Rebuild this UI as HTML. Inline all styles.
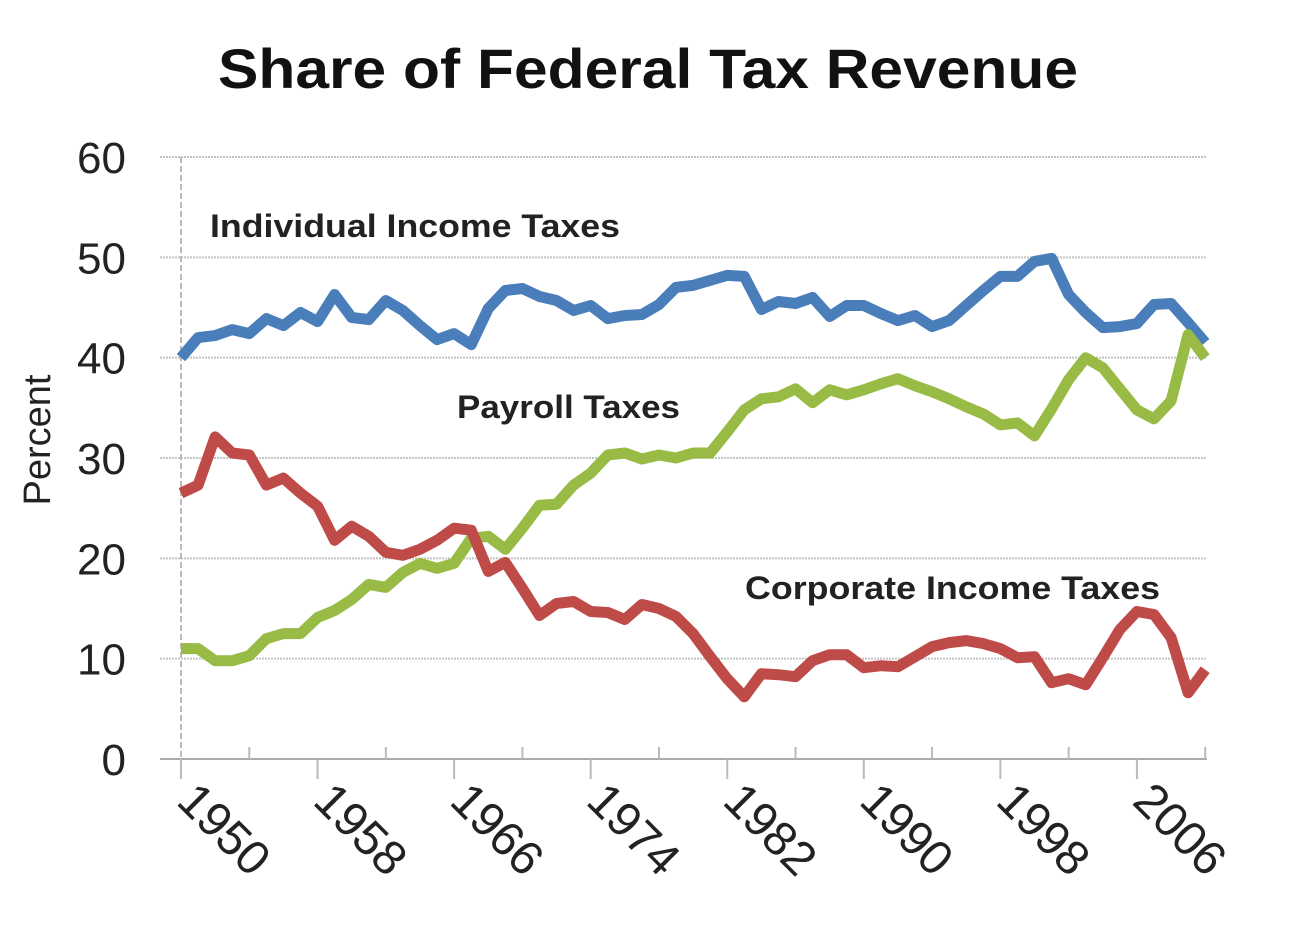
<!DOCTYPE html>
<html><head><meta charset="utf-8"><style>
html,body{margin:0;padding:0;background:#fff;}
svg{display:block;font-family:"Liberation Sans",sans-serif;}
</style></head><body>
<svg id="chart" width="1298" height="946">
<text x="218" y="88" textLength="860" lengthAdjust="spacingAndGlyphs" font-size="56" font-weight="bold" fill="#111">Share of Federal Tax Revenue</text>
<text transform="translate(50,440) rotate(-90)" text-anchor="middle" font-size="38" fill="#222">Percent</text>
<g id="grid"></g><g id="axes"></g><g id="lines"></g>
<text x="210" y="237" textLength="410" lengthAdjust="spacingAndGlyphs" font-size="32" font-weight="bold" fill="#222">Individual Income Taxes</text>
<text x="457" y="418" textLength="223" lengthAdjust="spacingAndGlyphs" font-size="32" font-weight="bold" fill="#222">Payroll Taxes</text>
<text x="745" y="599" textLength="415" lengthAdjust="spacingAndGlyphs" font-size="32" font-weight="bold" fill="#222">Corporate Income Taxes</text>
</svg>
<script>
const years=[];for(let y=1950;y<=2010;y++)years.push(y);
const individual=[40,42,42.2,42.8,42.4,43.9,43.2,44.5,43.6,46.3,44.0,43.8,45.7,44.7,43.2,41.8,42.4,41.3,44.9,46.7,46.9,46.1,45.7,44.7,45.2,43.9,44.2,44.3,45.3,47.0,47.2,47.7,48.2,48.1,44.8,45.6,45.4,46.0,44.1,45.2,45.2,44.4,43.7,44.2,43.1,43.7,45.2,46.7,48.1,48.1,49.6,49.9,46.3,44.5,43.0,43.1,43.4,45.3,45.4,43.5,41.5];
const payroll=[11,11,9.8,9.8,10.3,12,12.5,12.5,14.1,14.8,15.9,17.4,17.1,18.6,19.5,19.0,19.5,22.0,22.2,20.9,23.0,25.3,25.4,27.3,28.5,30.3,30.5,29.9,30.3,30.0,30.5,30.5,32.6,34.8,35.9,36.1,36.9,35.5,36.8,36.3,36.8,37.4,37.9,37.2,36.6,35.9,35.1,34.4,33.3,33.5,32.2,34.9,37.8,40.0,39.0,36.9,34.8,33.9,35.7,42.3,40.0];
const corporate=[26.5,27.3,32.1,30.5,30.3,27.3,28.0,26.5,25.2,21.8,23.2,22.2,20.6,20.3,20.9,21.8,23.0,22.8,18.7,19.6,17.0,14.3,15.5,15.7,14.7,14.6,13.9,15.4,15.0,14.2,12.5,10.2,8.0,6.2,8.5,8.4,8.2,9.8,10.4,10.4,9.1,9.3,9.2,10.2,11.2,11.6,11.8,11.5,11.0,10.1,10.2,7.6,8.0,7.4,10.1,12.9,14.7,14.4,12.1,6.6,8.9];
const yTicks=[0,10,20,30,40,50,60];
const xTickLabels=[1950,1958,1966,1974,1982,1990,1998,2006];
const NS='http://www.w3.org/2000/svg';
const X=y=>181+(y-1950)*17.07;
const Y=v=>759-v*10.033;
function mk(tag,attrs,parent){const e=document.createElementNS(NS,tag);for(const k in attrs)e.setAttribute(k,attrs[k]);document.getElementById(parent).appendChild(e);return e;}
yTicks.forEach(t=>{
 const l=mk('line',{x1:160,x2:1207,y1:Y(t),y2:Y(t),stroke:t===0?'#aaa':'#c4c4c4','stroke-width':2,'stroke-dasharray':t===0?'':'2,1'},'grid');
 
 
 const tx=mk('text',{x:126,y:Y(t)+16,'text-anchor':'end','font-size':44,fill:'#222'},'axes');
 tx.textContent=t;
 
 
});
const ya=mk('line',{x1:181,x2:181,y1:Y(60),y2:Y(0)+20,stroke:'#bbb','stroke-width':2,'stroke-dasharray':'6,3'},'axes');


for(let y=1950;y<=2010;y+=4){
 const major=(y-1950)%8===0;
 const t=mk('line',{x1:X(y),x2:X(y),y1:major?Y(0):Y(0)-12,y2:major?Y(0)+20:Y(0),stroke:'#bbb','stroke-width':2},'axes');
 
 
}
xTickLabels.forEach(y=>{
 const t=mk('text',{transform:`translate(${X(y)-6},${803}) rotate(45)`,'font-size':48,fill:'#222'},'axes');
 t.textContent=y;
 
 
});
function series(vals,color,name){
 const d=vals.map((v,i)=>(i?'L':'M')+X(years[i]).toFixed(1)+','+Y(v).toFixed(1)).join(' ');
 const p=mk('path',{d:d,fill:'none',stroke:color,'stroke-width':11,'stroke-linejoin':'round','stroke-linecap':'butt'},'lines');
 
 
}
series(individual,'#4a7ebb','line-individual-income');
series(payroll,'#98bb45','line-payroll');
series(corporate,'#be4b48','line-corporate-income');
</script>
</body></html>
